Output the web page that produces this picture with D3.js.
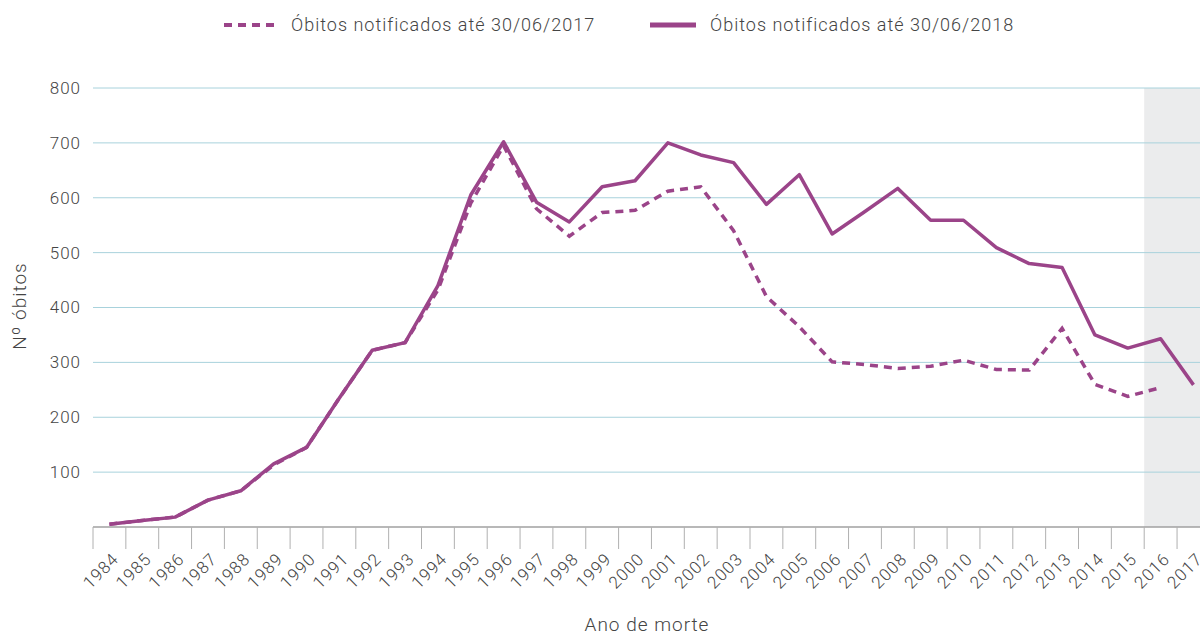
<!DOCTYPE html>
<html>
<head>
<meta charset="utf-8">
<script src="https://cdn.jsdelivr.net/npm/d3@7"></script>
<style>
  body { margin: 0; background: #fff; }
  text { font-family: Roboto, "Liberation Sans", sans-serif; font-weight: 300; fill: #444; letter-spacing: 1px; }
</style>
</head>
<body>
<div id="chart"></div>
<script>
// years on the x axis
var years = d3.range(1984, 2018).map(String);

// deaths notified until 30/06/2018 (solid)
var obitos2018 = [5, 12, 18, 49, 66, 115, 145, 235, 322, 336, 440, 605, 702, 592, 556, 620, 631,
    700, 678, 664, 588, 642, 534, 575, 617, 559, 559, 509, 480, 473, 350, 326, 343, 259];

// deaths notified until 30/06/2017 (dashed, stops at 2016)
var obitos2017 = [5, 12, 18, 49, 66, 113, 145, 235, 322, 336, 432, 590, 695, 580, 530, 573, 577,
    612, 620, 540, 420, 365, 301, 296, 289, 293, 304, 287, 286, 362, 260, 238, 254];

var yTicks = [100, 200, 300, 400, 500, 600, 700, 800];
var shadedYears = ["2016", "2017"];
var legendLabels = ["Óbitos notificados até 30/06/2017", "Óbitos notificados até 30/06/2018"];

var W = 1200, H = 637;
var margin = { top: 88, left: 93 },
    bottom = 527;
var lineColor = "#9b4489";

var svg = d3.select("#chart").append("svg")
    .attr("width", W)
    .attr("height", H);

// x: one band per year, the last band runs past the right edge
var x = d3.scaleBand().domain(years).range([margin.left, margin.left + years.length * 32.85]);
var y = d3.scaleLinear().domain([0, 800]).range([bottom, margin.top]);

// grey shade over the provisional years
svg.append("rect")
    .attr("x", x(shadedYears[0]))
    .attr("y", y(800))
    .attr("width", W - x(shadedYears[0]))
    .attr("height", y(0) - y(800))
    .attr("fill", "#ebeced");

// horizontal gridlines
svg.append("g")
    .selectAll("line")
    .data(yTicks)
    .enter()
    .append("line")
    .attr("x1", margin.left)
    .attr("x2", W)
    .attr("y1", d => y(d))
    .attr("y2", d => y(d))
    .attr("stroke", "#a8d2dc")
    .attr("stroke-width", 1);

// y labels
svg.append("g")
    .selectAll("text")
    .data(yTicks)
    .enter()
    .append("text")
    .attr("x", 81)
    .attr("y", d => y(d))
    .attr("dy", "0.35em")
    .attr("text-anchor", "end")
    .style("font-size", "17px")
    .text(d => d);

// x axis line and ticks on band edges
svg.append("line")
    .attr("x1", margin.left)
    .attr("x2", W)
    .attr("y1", bottom)
    .attr("y2", bottom)
    .attr("stroke", "#a0a0a0")
    .attr("stroke-width", 1.5);

svg.append("g")
    .selectAll("line")
    .data(years)
    .enter()
    .append("line")
    .attr("x1", d => x(d))
    .attr("x2", d => x(d))
    .attr("y1", bottom)
    .attr("y2", bottom + 22)
    .attr("stroke", "#b0b0b0")
    .attr("stroke-width", 1);

// rotated year labels
svg.append("g")
    .selectAll("text")
    .data(years)
    .enter()
    .append("text")
    .attr("transform", d => "translate(" + (x(d) + x.bandwidth() / 2 + 6) + "," + (bottom + 29) + ") rotate(-45)")
    .attr("text-anchor", "end")
    .attr("dy", "0.35em")
    .style("font-size", "17px")
    .text(d => d);

// lines
var line = d3.line()
    .x((d, i) => x(years[i]) + x.bandwidth() / 2)
    .y(d => y(d));

svg.append("path")
    .datum(obitos2017)
    .attr("fill", "none")
    .attr("stroke", lineColor)
    .attr("stroke-width", 3.5)
    .attr("stroke-dasharray", "8,6")
    .attr("d", line);

svg.append("path")
    .datum(obitos2018)
    .attr("fill", "none")
    .attr("stroke", lineColor)
    .attr("stroke-width", 3.5)
    .attr("stroke-linejoin", "round")
    .attr("d", line);

// legend
var legend = svg.append("g");
legend.append("line")
    .attr("x1", 224).attr("x2", 276)
    .attr("y1", 25).attr("y2", 25)
    .attr("stroke", lineColor)
    .attr("stroke-width", 4)
    .attr("stroke-dasharray", "8,6");
legend.append("text")
    .attr("x", 291).attr("y", 25)
    .attr("dy", "0.35em")
    .style("font-size", "18px")
    .text(legendLabels[0]);
legend.append("line")
    .attr("x1", 650).attr("x2", 696)
    .attr("y1", 25).attr("y2", 25)
    .attr("stroke", lineColor)
    .attr("stroke-width", 5);
legend.append("text")
    .attr("x", 710).attr("y", 25)
    .attr("dy", "0.35em")
    .style("font-size", "18px")
    .text(legendLabels[1]);

// axis titles
svg.append("text")
    .attr("transform", "translate(26," + 306 + ") rotate(-90)")
    .attr("text-anchor", "middle")
    .style("font-size", "19px")
    .text("Nº óbitos");

svg.append("text")
    .attr("x", 647)
    .attr("y", 631)
    .attr("text-anchor", "middle")
    .style("font-size", "19px")
    .text("Ano de morte");
</script>
</body>
</html>
